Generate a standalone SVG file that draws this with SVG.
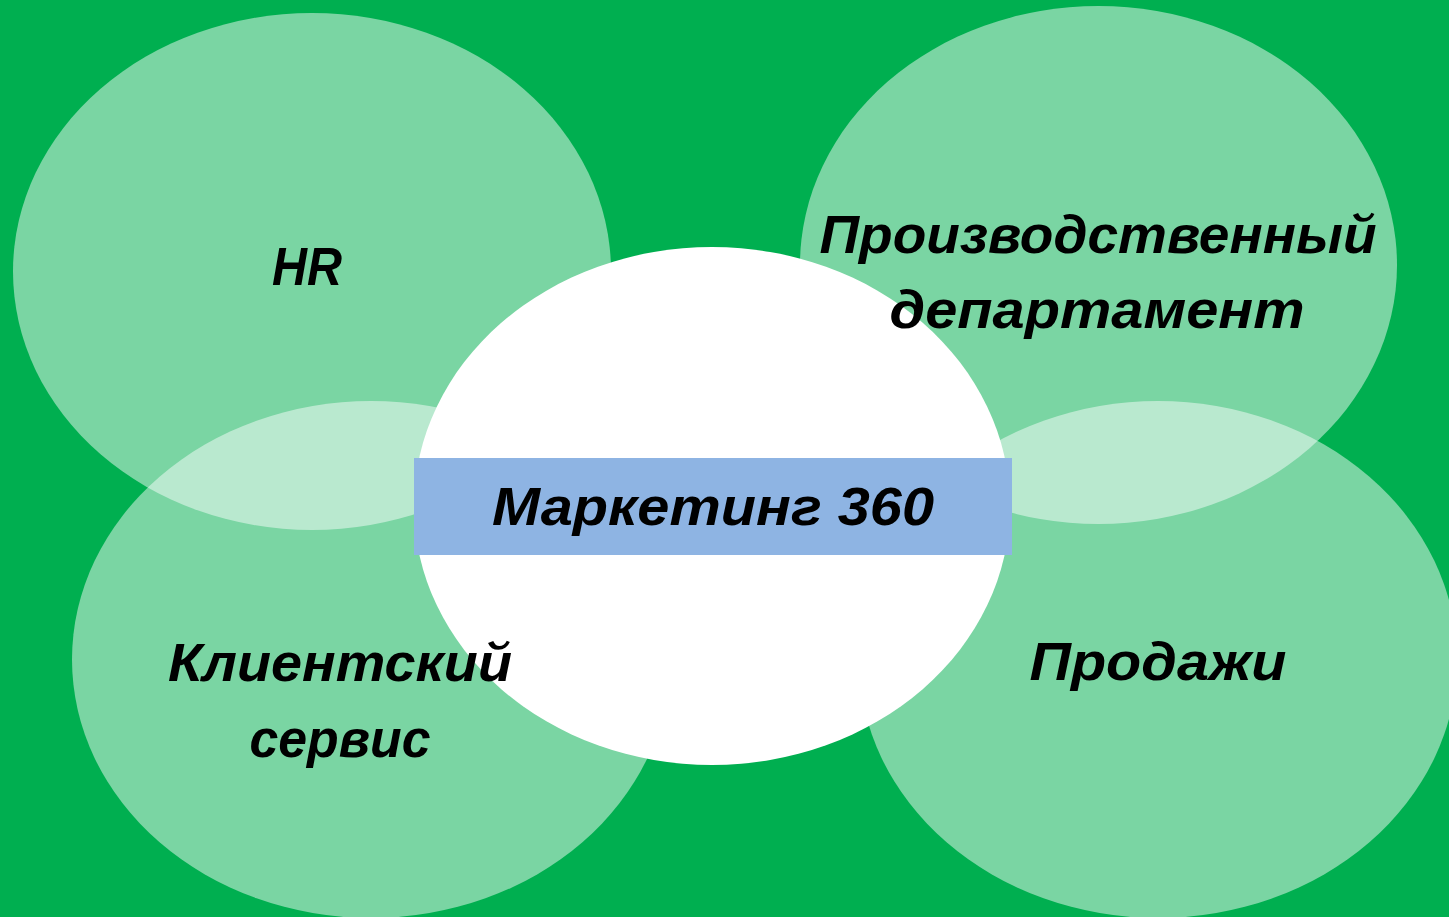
<svg xmlns="http://www.w3.org/2000/svg" width="1449" height="917" viewBox="0 0 1449 917">
  <style>
    .bubble { fill: #FFFFFF; fill-opacity: 0.48; }
    .center { fill: #FFFFFF; }
    .band { fill: #8EB4E3; }
    .lbl { font-family: "Liberation Sans", "DejaVu Sans", sans-serif; font-weight: bold; font-style: italic; font-size: 53px; fill: #000000; text-anchor: middle; }
  </style>
  <rect x="0" y="0" width="1449" height="917" fill="#00AF50"/>
  <g id="connectors"/>
  <g id="node-hr">
    <ellipse class="bubble" cx="312" cy="271.5" rx="299" ry="258.5"/>
  </g>
  <g id="node-production">
    <ellipse class="bubble" cx="1098.5" cy="265" rx="298.5" ry="259"/>
  </g>
  <g id="node-client">
    <ellipse class="bubble" cx="371" cy="659.5" rx="299" ry="258.5"/>
  </g>
  <g id="node-sales">
    <ellipse class="bubble" cx="1158" cy="659.5" rx="299" ry="258.5"/>
  </g>
  <g id="node-marketing">
    <ellipse class="center" cx="712" cy="506" rx="298" ry="259"/>
    <rect class="band" x="414" y="458" width="598" height="97"/>
    <text class="lbl" x="713" y="525" textLength="442" lengthAdjust="spacingAndGlyphs">Маркетинг 360</text>
  </g>
  <g id="labels">
    <text class="lbl" x="307" y="285" textLength="70" lengthAdjust="spacingAndGlyphs">HR</text>
    <text class="lbl" x="1098" y="253" textLength="557" lengthAdjust="spacingAndGlyphs">Производственный</text>
    <text class="lbl" x="1097" y="328" textLength="415" lengthAdjust="spacingAndGlyphs">департамент</text>
    <text class="lbl" x="340" y="681" textLength="344" lengthAdjust="spacingAndGlyphs">Клиентский</text>
    <text class="lbl" x="340" y="757" textLength="181" lengthAdjust="spacingAndGlyphs">сервис</text>
    <text class="lbl" x="1158" y="680" textLength="257" lengthAdjust="spacingAndGlyphs">Продажи</text>
  </g>
</svg>
